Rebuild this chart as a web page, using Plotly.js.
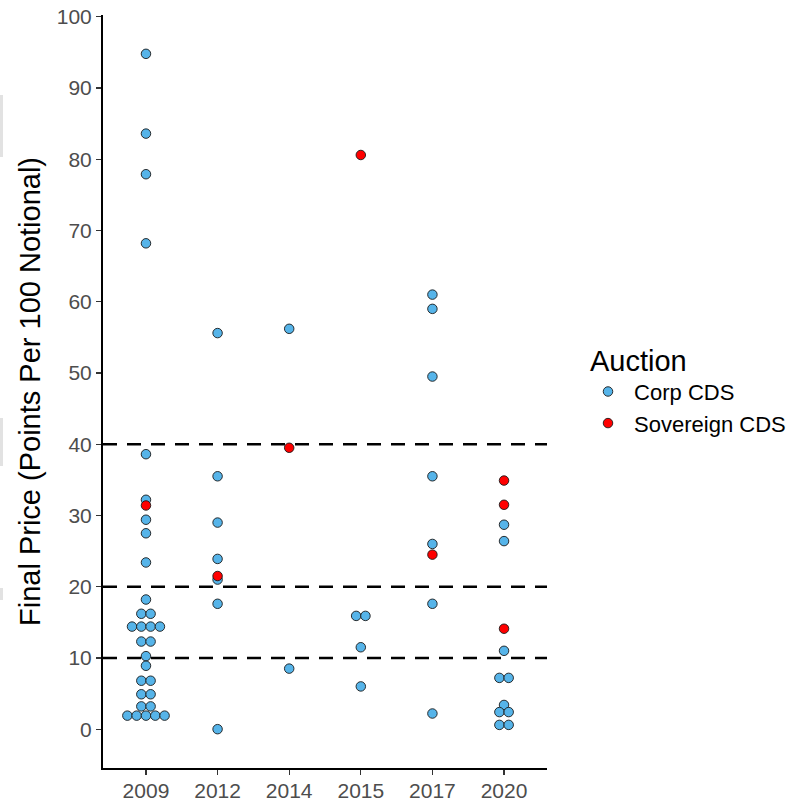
<!DOCTYPE html>
<html>
<head>
<meta charset="utf-8">
<script src="https://cdn.plot.ly/plotly-3.0.1.min.js"></script>
<style>html,body{margin:0;padding:0;background:#fff;}#chart{width:796px;height:804px;}</style>
</head>
<body>
<div id="chart"></div>
<script>
// Categories
const years = ['2009', '2012', '2014', '2015', '2017', '2020'];
// Corp CDS final prices by year (stacked rows repeat their value)
const corp2009 = [94.8, 83.6, 77.9, 68.2, 38.6, 32.2, 29.4, 27.5, 23.4, 18.2,
  16.2, 16.2, 14.4, 14.4, 14.4, 14.4, 12.3, 12.3, 10.25, 8.9,
  6.8, 6.8, 4.9, 4.9, 3.2, 3.2, 1.9, 1.9, 1.9, 1.9, 1.9];
const corp2012 = [55.6, 35.5, 29.0, 23.9, 21.0, 17.6, 0.0];
const corp2014 = [56.2, 8.5];
const corp2015 = [15.9, 15.9, 11.5, 6.0];
const corp2017 = [61.0, 59.0, 49.5, 35.5, 26.0, 17.6, 2.2];
const corp2020 = [28.7, 26.4, 11.0, 7.2, 7.2, 3.4, 2.4, 2.4, 0.6, 0.6];
// Sovereign CDS final prices by year
const sov2009 = [31.4];
const sov2012 = [21.5];
const sov2014 = [39.5];
const sov2015 = [80.6];
const sov2017 = [24.5];
const sov2020 = [34.9, 31.5, 14.1];
// Reference lines
const refLines = [40, 20, 10];
const seriesNames = ['Corp CDS', 'Sovereign CDS'];

const corpByYear = [corp2009, corp2012, corp2014, corp2015, corp2017, corp2020];
const sovByYear = [sov2009, sov2012, sov2014, sov2015, sov2017, sov2020];

const dotStep = 0.13; // horizontal stacking step in category units

function stackPoints(groups) {
  const xs = [], ys = [];
  groups.forEach((vals, ci) => {
    const counts = {};
    vals.forEach(v => { counts[v] = (counts[v] || 0) + 1; });
    const seen = {};
    vals.forEach(v => {
      const n = counts[v];
      const i = seen[v] || 0;
      seen[v] = i + 1;
      xs.push(ci + (i - (n - 1) / 2) * dotStep);
      ys.push(v);
    });
  });
  return {xs, ys};
}

const c = stackPoints(corpByYear);
const s = stackPoints(sovByYear);
const pad = '\u00a0';

const traces = [
  {x: c.xs, y: c.ys, type: 'scatter', mode: 'markers', name: pad + seriesNames[0],
   marker: {color: '#56B4E9', size: 9.5, line: {color: '#1a1a1a', width: 0.9}}},
  {x: s.xs, y: s.ys, type: 'scatter', mode: 'markers', name: pad + seriesNames[1],
   marker: {color: '#FF0000', size: 9.5, line: {color: '#1a1a1a', width: 0.9}}}
];

const shapes = refLines.map(v => ({
  type: 'line', xref: 'paper', x0: 0, x1: 1, yref: 'y', y0: v, y1: v,
  line: {color: '#000', width: 2.6, dash: '14px,10px'}
}));
// faint strips at the left edge seen in the reference
[[95, 157], [418, 466], [588, 600]].forEach(([a, b]) => shapes.push({
  type: 'rect', xref: 'paper', yref: 'paper', layer: 'below',
  x0: -103 / 444, x1: -100 / 444, y0: 1 - (a - 15) / 753, y1: 1 - (b - 15) / 753,
  fillcolor: '#e2e2e2', line: {width: 0}
}));

const layout = {
  width: 796, height: 804,
  margin: {l: 103, r: 249, t: 15, b: 36, autoexpand: false},
  paper_bgcolor: '#fff', plot_bgcolor: '#fff',
  font: {family: 'Liberation Sans, Arial, sans-serif'},
  showlegend: true,
  xaxis: {
    range: [-0.6, 5.6], tickmode: 'array', tickvals: years.map((y, i) => i), ticktext: years,
    showgrid: false, zeroline: false, showline: true, linecolor: '#000', linewidth: 2,
    ticks: 'outside', ticklen: 5, tickwidth: 1.3, tickcolor: '#333', ticklabelstandoff: -2,
    tickfont: {size: 21, color: '#4D4D4D'}, automargin: false
  },
  yaxis: {
    range: [-5.45, 100.25], tickmode: 'array', tickvals: [0,10,20,30,40,50,60,70,80,90,100],
    showgrid: false, zeroline: false, showline: true, linecolor: '#000', linewidth: 2,
    ticks: 'outside', ticklen: 5, tickwidth: 1.3, tickcolor: '#333',
    tickfont: {size: 21, color: '#4D4D4D'}, automargin: false,
    title: {text: 'Final Price (Points Per 100 Notional)', font: {size: 29, color: '#000'}, standoff: 8}
  },
  legend: {
    x: (588 - 103) / 444, xanchor: 'left', y: 0.504, yanchor: 'middle',
    title: {text: 'Auction', font: {size: 29, color: '#000'}},
    font: {size: 22, color: '#000'}, itemsizing: 'trace', tracegroupgap: 0
  },
  shapes: shapes
};

Plotly.newPlot('chart', traces, layout, {displayModeBar: false, staticPlot: true});
</script>
</body>
</html>
